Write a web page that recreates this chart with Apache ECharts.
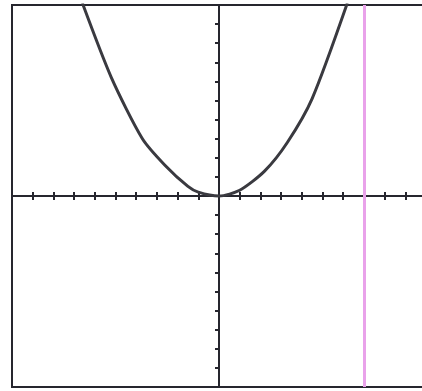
<!DOCTYPE html>
<html>
<head>
<meta charset="utf-8">
<script src="https://cdn.jsdelivr.net/npm/echarts@6/dist/echarts.min.js"></script>
<style>
html,body{margin:0;padding:0;background:#fff;}
#chart{width:422px;height:391px;}
</style>
</head>
<body>
<div id="chart"></div>
<script>
// window -10..10 on both axes, one tick per unit
const xRange = [-10, 10];
const yRange = [-10, 10];
const tickStep = 1;
// points (roughly y = x^2/4)
const curveX = [-6.6, -5.2, -3.7, -2.6, -1.5, -1.0, 0, 1.0, 2.2, 3.3, 4.5, 6.2];
const curveY = [10.1, 6.2, 3.0, 1.6, 0.5, 0.2, 0, 0.3, 1.3, 2.8, 5.1, 10.1];
// pink highlighter stroke on the scan
const markX = [7];

let chart = echarts.init(document.getElementById('chart'));
let ink = '#26262e';
let xAxisBase = {
	type: 'value',
	position: 'bottom',
	min: xRange[0],
	max: xRange[1],
	interval: tickStep,
	axisLine: {onZero: true, onZeroAxisIndex: 0, lineStyle: {color: ink, width: 2}},
	axisLabel: {show: false},
	splitLine: {show: false}
};
let option = {
	animation: false,
	backgroundColor: '#fff',
	grid: {
		left: 12, width: 414, top: 5, bottom: 4,
		outerBoundsMode: 'none',
		containLabel: false,
		show: true,
		borderColor: ink,
		borderWidth: 2,
		backgroundColor: '#fff'
	},
	xAxis: [
		Object.assign({}, xAxisBase, {axisTick: {show: true, inside: false, length: 4, lineStyle: {color: ink, width: 2}}}),
		Object.assign({}, xAxisBase, {axisTick: {show: true, inside: true, length: 4, lineStyle: {color: ink, width: 2}}})
	],
	yAxis: {
		type: 'value',
		min: yRange[0],
		max: yRange[1],
		interval: tickStep,
		axisLine: {onZero: true, lineStyle: {color: ink, width: 2}},
		axisTick: {show: true, length: 4, lineStyle: {color: ink, width: 2}},
		axisLabel: {show: false},
		splitLine: {show: false}
	},
	series: [{
		type: 'line',
		data: curveX.map((x, i) => [x, curveY[i]]),
		showSymbol: false,
		smooth: 0.25,
		clip: true,
		lineStyle: {color: '#3a3a40', width: 3},
		markLine: {
			silent: true,
			symbol: 'none',
			label: {show: false},
			lineStyle: {color: '#e9a2ea', width: 3, type: 'solid'},
			data: markX.map(v => ({xAxis: v}))
		}
	}]
};
chart.setOption(option);
</script>
</body>
</html>
